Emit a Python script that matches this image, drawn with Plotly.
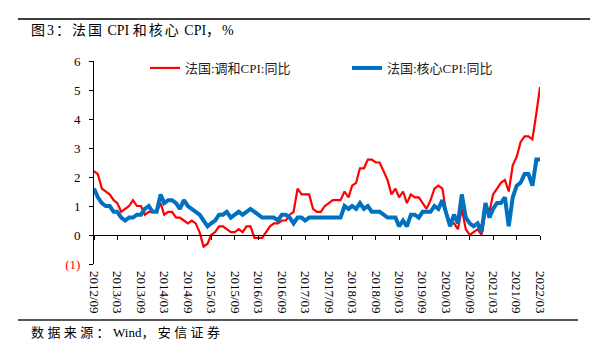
import plotly.graph_objects as go
import pandas as pd

# ---- data ----
months = pd.date_range("2012-09-01", "2022-03-01", freq="MS")

hicp_yoy = [
    2.2, 2.1, 1.6, 1.5,
    1.4, 1.2, 1.1, 0.8, 0.9, 1.0, 1.2, 1.0, 1.0, 0.7, 0.8, 0.8,
    0.8, 1.1, 0.7, 0.8, 0.8, 0.6, 0.6, 0.5, 0.4, 0.5, 0.4, 0.1,
    -0.4, -0.3, 0.0, 0.1, 0.3, 0.3, 0.2, 0.1, 0.1, 0.2, 0.1, 0.3,
    0.3, -0.1, -0.1, -0.1, 0.1, 0.3, 0.4, 0.4, 0.5, 0.5, 0.7, 0.8,
    1.6, 1.4, 1.4, 1.4, 0.9, 0.8, 0.8, 1.0, 1.1, 1.2, 1.2, 1.2,
    1.5, 1.3, 1.7, 1.8, 2.3, 2.3, 2.6, 2.6, 2.5, 2.5, 2.2, 1.9,
    1.4, 1.6, 1.3, 1.5, 1.1, 1.4, 1.3, 1.3, 1.1, 0.9, 1.2, 1.6,
    1.7, 1.6, 0.8, 0.4, 0.4, 0.2, 0.9, 0.2, 0.0, 0.1, 0.2, 0.0,
    0.8, 0.8, 1.4, 1.6, 1.8, 1.9, 1.5, 2.4, 2.7, 3.2, 3.4, 3.4,
    3.3, 4.2, 5.1,
]

core_yoy = [
    1.6, 1.3, 1.1, 1.0, 1.0, 0.8, 0.8, 0.6, 0.5, 0.6, 0.6, 0.7, 0.7, 0.9, 1.0, 0.8, 0.8, 1.4, 1.1, 1.2,
    1.2, 1.1, 0.9, 1.2, 1.0, 0.9, 0.8, 0.7, 0.5, 0.3, 0.4, 0.5, 0.7, 0.7, 0.8, 0.6, 0.7,
    0.8, 0.7, 0.8, 0.9, 0.8, 0.7, 0.6, 0.6, 0.6, 0.6, 0.5, 0.7, 0.7, 0.6, 0.4, 0.6, 0.6, 0.5, 0.6, 0.6,
    0.6, 0.6, 0.6, 0.6, 0.6, 0.6, 0.6,
    1.0, 0.9, 1.0, 0.9, 1.1, 0.9, 1.0, 0.8, 0.8, 0.8, 0.7, 0.6, 0.6, 0.6,
    0.3, 0.5, 0.3, 0.7, 0.7, 0.6, 0.8, 0.8, 0.8, 1.0, 0.9, 1.2, 0.7, 0.3, 0.7, 0.4, 1.4, 0.6, 0.4, 0.3, 0.4, 0.1,
    1.1, 0.6, 0.9, 1.1, 1.1, 1.3, 0.3, 1.3, 1.7, 1.8, 2.1, 2.1, 1.7, 2.6, 2.6,
]

tick_labels = ["2012/09", "2013/03", "2013/09", "2014/03", "2014/09", "2015/03",
               "2015/09", "2016/03", "2016/09", "2017/03", "2017/09", "2018/03",
               "2018/09", "2019/03", "2019/09", "2020/03", "2020/09", "2021/03",
               "2021/09", "2022/03"]
y_ticks = [-1, 0, 1, 2, 3, 4, 5, 6]
y_tick_text = ['<span style="color:#FF0000">(1)</span>', "0", "1", "2", "3", "4", "5", "6"]

series_names = ["法国:调和CPI:同比", "法国:核心CPI:同比"]

assert len(hicp_yoy) == len(months) == len(core_yoy)

tick_vals = [pd.Timestamp(s.replace("/", "-") + "-01") for s in tick_labels]

SERIF = "Liberation Serif, Times New Roman, Noto Sans CJK SC, serif"

fig = go.Figure()
fig.add_trace(go.Scatter(x=months, y=hicp_yoy, mode="lines", name=series_names[0],
                         line=dict(color="#FF0000", width=2.2), legend="legend"))
fig.add_trace(go.Scatter(x=months, y=core_yoy, mode="lines", name=series_names[1],
                         line=dict(color="#0070C0", width=4), legend="legend2"))
# carrier for the zero-line axis (no visible marks)
fig.add_trace(go.Scatter(x=[months[0]], y=[None], xaxis="x2", mode="lines",
                         showlegend=False, hoverinfo="skip"))

xr = [months[0], months[-1]]
fig.update_layout(
    width=590, height=354,
    margin=dict(l=94, r=50, t=61, b=90),
    paper_bgcolor="white", plot_bgcolor="white",
    font=dict(family=SERIF, size=13, color="#000000"),
    xaxis=dict(range=xr, tickvals=tick_vals, ticktext=tick_labels, tickangle=90,
               showline=False, ticks="", showgrid=False, zeroline=False,
               ticklabelstandoff=6,
               tickfont=dict(family=SERIF, size=13, color="#000000")),
    xaxis2=dict(range=xr, overlaying="x", anchor="free", position=1/7, side="bottom",
                tickvals=tick_vals, showticklabels=False, showline=True,
                linecolor="#000000", linewidth=1, ticks="outside", ticklen=4,
                tickcolor="#000000", showgrid=False, zeroline=False),
    yaxis=dict(range=[-1, 6], tickvals=y_ticks, ticktext=y_tick_text,
               showline=True, linecolor="#000000", linewidth=1, ticks="outside",
               ticklen=4, tickcolor="#000000", showgrid=False, zeroline=False,
               ticklabelstandoff=6,
               tickfont=dict(family=SERIF, size=13, color="#000000")),
    legend=dict(x=(145 - 94) / 446, y=(264 - 53) / 203, xanchor="left", yanchor="top",
                bgcolor="rgba(0,0,0,0)", font=dict(family=SERIF, size=13, color="#222222")),
    legend2=dict(x=(347 - 94) / 446, y=(264 - 53) / 203, xanchor="left", yanchor="top",
                 bgcolor="rgba(0,0,0,0)", font=dict(family=SERIF, size=13, color="#222222")),
    showlegend=True,
)

def px_x(p):
    return (p - 94) / 446

def px_y(p):
    return (264 - p) / 203

fig.add_shape(type="line", xref="paper", yref="paper",
              x0=px_x(18), x1=px_x(590), y0=px_y(19), y1=px_y(19),
              line=dict(color="#404040", width=2))
fig.add_shape(type="line", xref="paper", yref="paper",
              x0=px_x(18), x1=px_x(578), y0=px_y(320), y1=px_y(320),
              line=dict(color="#202020", width=1.5))

LS_T = '<span style="letter-spacing:2px">'
LS_F = '<span style="letter-spacing:3.4px">'
fig.add_annotation(xref="paper", yref="paper", x=px_x(29), y=px_y(31),
                   xanchor="left", yanchor="middle", showarrow=False,
                   text=f'{LS_T}图3：法国</span> CPI {LS_T}和核心</span> CPI{LS_T}，%</span>',
                   font=dict(family=SERIF, size=14, color="#000000"))
fig.add_annotation(xref="paper", yref="paper", x=px_x(29), y=px_y(332),
                   xanchor="left", yanchor="middle", showarrow=False,
                   text=f'{LS_F}数据来源：</span>Wind{LS_F}，安信证券</span>',
                   font=dict(family=SERIF, size=13, color="#000000"))

fig.write_html("out.html")
